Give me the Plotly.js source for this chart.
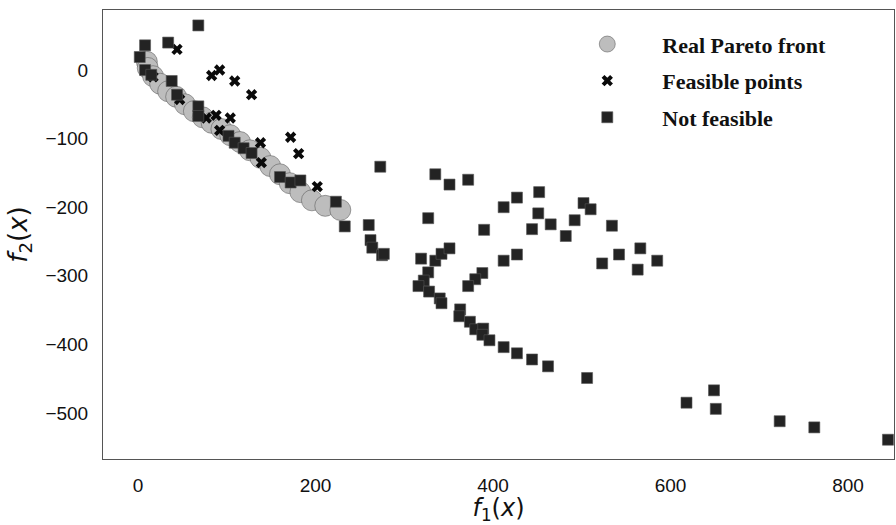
<!DOCTYPE html>
<html>
<head>
<meta charset="utf-8">
<script src="https://cdn.plot.ly/plotly-3.0.1.min.js"></script>
<style>html,body{margin:0;padding:0;background:#fff;}#chart{width:896px;height:525px;}</style>
</head>
<body>
<div id="chart"></div>
<script>
// Real Pareto front
const paretoF1 = [10, 11, 17, 25, 34, 43, 53, 63, 73, 83, 94, 104, 115, 126, 138, 149, 160, 171, 183, 196, 211, 228];
const paretoF2 = [12, 3, -9, -20, -31, -39, -50, -60, -69, -77, -86, -95, -105, -117, -128, -140, -152, -165, -178, -190, -198, -204];

// Feasible points
const feasF1 = [44, 83, 92, 109, 128, 17, 47, 77, 88, 104, 92, 138, 172, 181, 139, 202];
const feasF2 = [30, -8, 0, -16, -36, -10, -43, -70, -66, -70, -88, -106, -98, -122, -135, -170];

// Not feasible points
const notF1 = [68, 8, 34, 2, 8, 15, 38, 44, 68, 68, 102, 109, 119, 128, 160, 172, 183, 223, 273, 233, 260,
  335, 351, 372, 327, 390, 262, 264, 275, 277,
  319, 335, 342, 351, 327, 322, 316, 328, 340, 342, 363, 362, 374, 380, 389, 388, 396, 388, 380, 372,
  412, 427, 452, 451, 444, 465, 482, 492, 502, 510, 534, 523, 542, 566, 563, 585, 427, 412,
  412, 427, 444, 462, 506, 649, 618, 651, 723, 762, 845];
const notF2 = [65, 36, 40, 19, 0, -7, -16, -36, -53, -67, -96, -106, -114, -121, -156, -164, -161, -192, -141, -228, -226,
  -152, -167, -160, -216, -233, -248, -259, -270, -268,
  -275, -278, -268, -260, -295, -307, -315, -323, -333, -340, -349, -359, -367, -378, -377, -386, -394, -296, -305, -315,
  -200, -186, -178, -209, -232, -225, -242, -219, -194, -203, -227, -282, -269, -260, -291, -278, -269, -278,
  -404, -413, -422, -432, -449, -467, -485, -494, -512, -521, -539];

const seriesNames = ['Real Pareto front', 'Feasible points', 'Not feasible'];
const xTicks = [0, 200, 400, 600, 800];
const yTicks = [0, -100, -200, -300, -400, -500];

const traces = [
  {x: paretoF1, y: paretoF2, name: seriesNames[0], type: 'scatter', mode: 'markers', legendgroup: 'a',
   marker: {symbol: 'circle', size: 21, color: '#bdbdbd', line: {color: 'rgba(90,90,90,0.55)', width: 1}}},
  {x: feasF1, y: feasF2, name: seriesNames[1], type: 'scatter', mode: 'markers', legendgroup: 'b',
   marker: {symbol: 'x', size: 10, color: '#0a0a0a', line: {width: 0}}},
  {x: notF1, y: notF2, name: seriesNames[2], type: 'scatter', mode: 'markers', legendgroup: 'c',
   marker: {symbol: 'square', size: 11, color: '#232323', line: {color: '#555', width: 0.6}}}
];

const axisFont = {family: 'Liberation Sans, Arial, sans-serif', size: 19, color: '#111'};
const layout = {
  width: 896, height: 525,
  margin: {l: 103, r: 2, t: 10, b: 66},
  paper_bgcolor: '#fff', plot_bgcolor: '#fff',
  showlegend: true,
  legend: {x: 0.568, y: 0.9705, xanchor: 'left', yanchor: 'top', bgcolor: 'rgba(0,0,0,0)',
    itemwidth: 100, tracegroupgap: 5,
    font: {family: 'Liberation Serif, Times New Roman, serif', size: 22, weight: 'bold', color: '#111'}},
  xaxis: {range: [-39.4, 851.8], tickvals: xTicks, ticktext: xTicks.map(String), showgrid: false, zeroline: false,
    showline: true, mirror: true, linecolor: '#555', linewidth: 1, ticks: '', ticklabelstandoff: 9,
    tickfont: axisFont,
    title: {text: '<i>f</i><sub>1</sub>(<i>x</i>)', standoff: 9, font: {family: 'DejaVu Sans, sans-serif', size: 24, color: '#111'}}},
  yaxis: {range: [-567.1, 87.5], tickvals: yTicks, ticktext: yTicks.map(v => v < 0 ? '\u2212' + Math.abs(v) : String(v)), showgrid: false, zeroline: false,
    showline: true, mirror: true, linecolor: '#555', linewidth: 1, ticks: '', ticklabelstandoff: 10,
    tickfont: axisFont,
    title: {text: '<i>f</i><sub>2</sub>(<i>x</i>)', standoff: 10, font: {family: 'DejaVu Sans, sans-serif', size: 26, color: '#111'}}}
};

Plotly.newPlot('chart', traces, layout, {displayModeBar: false, staticPlot: true});
</script>
</body>
</html>
